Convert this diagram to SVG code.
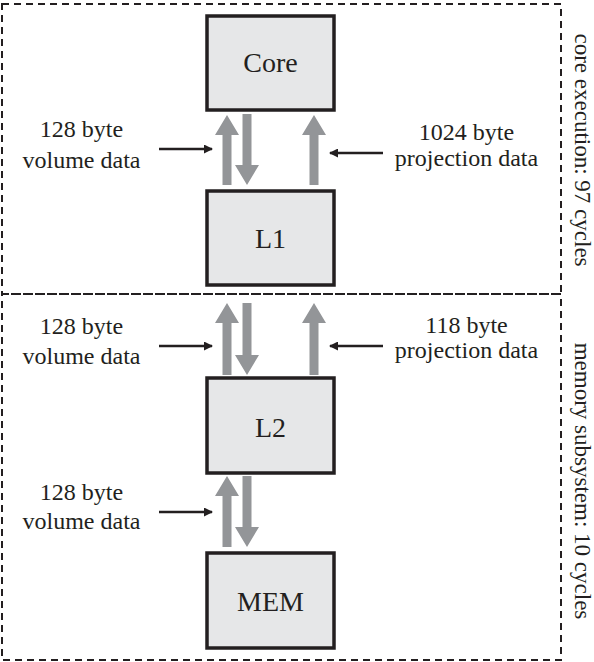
<svg xmlns="http://www.w3.org/2000/svg" width="594" height="662" viewBox="0 0 594 662">
<style>
.box{fill:#e6e7e8;stroke:#231f20;stroke-width:3.5}
.dash{fill:none;stroke:#231f20;stroke-width:2;stroke-dasharray:7,5}
.lbl{font-family:"Liberation Serif","Times New Roman",serif;font-size:24px;fill:#231f20;text-anchor:middle}
.side{font-family:"Liberation Serif","Times New Roman",serif;font-size:23px;fill:#231f20;text-anchor:middle}
.big{font-family:"Liberation Serif","Times New Roman",serif;font-size:28px;fill:#231f20;text-anchor:middle}
.ga{fill:#939598}
.ba{stroke:#231f20;stroke-width:2.5;fill:none}
</style>
<defs>
<marker id="ah" markerWidth="9" markerHeight="9" refX="8" refY="4.5" orient="auto" markerUnits="userSpaceOnUse">
<path d="M0,0 L9,4.5 L0,9 z" fill="#231f20"/>
</marker>
</defs>
<g id="frames">
<rect class="dash" x="2" y="4" width="559" height="290"/>
<rect class="dash" x="2" y="294" width="559" height="366"/>
<text class="side" transform="translate(575,150) rotate(90)">core execution: 97 cycles</text>
<text class="side" transform="translate(575,481) rotate(90)">memory subsystem: 10 cycles</text>
</g>
<g id="core"><rect class="box" x="207" y="16" width="127" height="94"/><text class="big" x="270.5" y="72">Core</text></g>
<g id="l1"><rect class="box" x="207" y="191" width="127" height="94"/><text class="big" x="270.5" y="248">L1</text></g>
<g id="l2"><rect class="box" x="207" y="378" width="127" height="95"/><text class="big" x="270.5" y="437">L2</text></g>
<g id="mem"><rect class="box" x="207" y="553" width="127" height="95"/><text class="big" x="270.5" y="611">MEM</text></g>
<g id="connectors">
<path class="ga" d="M227,115 L239,135 L231.5,135 L231.5,185 L222.5,185 L222.5,135 L215,135 z"/>
<path class="ga" d="M247,185 L235,165 L242.5,165 L242.5,114 L251.5,114 L251.5,165 L259,165 z"/>
<path class="ga" d="M314,115 L326,135 L318.5,135 L318.5,185 L309.5,185 L309.5,135 L302,135 z"/>
<path class="ga" d="M227,303 L239,323 L231.5,323 L231.5,375 L222.5,375 L222.5,323 L215,323 z"/>
<path class="ga" d="M247,375 L235,355 L242.5,355 L242.5,303 L251.5,303 L251.5,355 L259,355 z"/>
<path class="ga" d="M314,303 L326,323 L318.5,323 L318.5,375 L309.5,375 L309.5,323 L302,323 z"/>
<path class="ga" d="M227,476 L239,496 L231.5,496 L231.5,547 L222.5,547 L222.5,496 L215,496 z"/>
<path class="ga" d="M247,547 L235,527 L242.5,527 L242.5,476 L251.5,476 L251.5,527 L259,527 z"/>
<line class="ba" x1="159" y1="149" x2="212" y2="149" marker-end="url(#ah)"/>
<line class="ba" x1="383" y1="153" x2="330" y2="153" marker-end="url(#ah)"/>
<line class="ba" x1="159" y1="346" x2="212" y2="346" marker-end="url(#ah)"/>
<line class="ba" x1="383" y1="346" x2="330" y2="346" marker-end="url(#ah)"/>
<line class="ba" x1="159" y1="512" x2="212" y2="512" marker-end="url(#ah)"/>
</g>
<g id="labels">
<text class="lbl" x="81.5" y="137">128 byte</text>
<text class="lbl" x="81.5" y="168">volume data</text>
<text class="lbl" x="466.5" y="140">1024 byte</text>
<text class="lbl" x="466.5" y="166">projection data</text>
<text class="lbl" x="81.5" y="334">128 byte</text>
<text class="lbl" x="81.5" y="364">volume data</text>
<text class="lbl" x="466.5" y="333">118 byte</text>
<text class="lbl" x="466.5" y="358">projection data</text>
<text class="lbl" x="81.5" y="500">128 byte</text>
<text class="lbl" x="81.5" y="529">volume data</text>
</g>
</svg>
